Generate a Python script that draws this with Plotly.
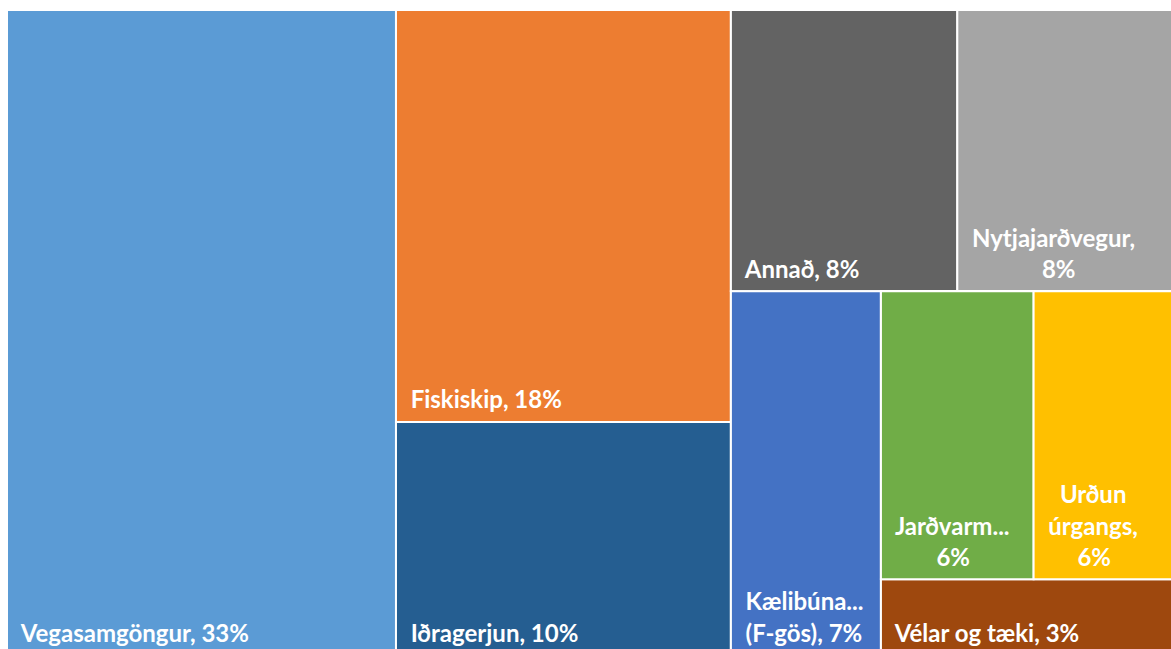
import plotly.graph_objects as go

# --- data (shares in %) ---
categories = ["Vegasamgöngur", "Fiskiskip", "Iðragerjun", "Annað", "Nytjajarðvegur",
              "Kælibúnaður (F-gös)", "Jarðvarmavirkjanir", "Urðun úrgangs", "Vélar og tæki"]
shares = [33.1, 18.2, 10.3, 8.4, 8.3, 7.2, 5.8, 5.6, 3.0]
colors = ["#5B9BD5", "#ED7D31", "#255E91", "#636363", "#A5A5A5",
          "#4472C4", "#70AD47", "#FFC000", "#9E480E"]
# label lines as shown in the tiles (Excel wraps / truncates)
tile_lines = [["Vegasamgöngur, {p}%"], ["Fiskiskip, {p}%"], ["Iðragerjun, {p}%"],
              ["Annað, {p}%"], ["Nytjajarðvegur,", "{p}%"], ["Kælibúna...", "(F-gös), {p}%"],
              ["Jarðvarm...", "{p}%"], ["Urðun", "úrgangs,", "{p}%"], ["Vélar og tæki, {p}%"]]
# extra no-break spaces to centre the shorter wrapped lines
line_indent = [[0], [0], [0], [0], [0, 12], [0, 0], [0, 7], [2, 0, 5], [0]]

# tiling groups (reproduce the Excel layout with slice-dice tiling)
leaf_parent = {"Vegasamgöngur": "", "Fiskiskip": "g1", "Iðragerjun": "g1",
               "Annað": "g3", "Nytjajarðvegur": "g3", "Kælibúnaður (F-gös)": "g4",
               "Jarðvarmavirkjanir": "g6", "Urðun úrgangs": "g6", "Vélar og tæki": "g5"}
group_parent = {"g1": "", "g2": "", "g3": "g2", "g4": "g2", "g5": "g4", "g6": "g5"}
order = ["Vegasamgöngur", "g1", "Fiskiskip", "Iðragerjun", "g2", "g3", "Annað",
         "Nytjajarðvegur", "g4", "Kælibúnaður (F-gös)", "g5", "g6",
         "Jarðvarmavirkjanir", "Urðun úrgangs", "Vélar og tæki"]

FONT_PX = 24      # visible label size
BASE_PX = 8       # base size -> line step 1.3*8 px (used for spacing / bottom padding)
NB = "\u00a0"
TINY = "<span style='font-size:1px'>" + NB + "</span>"


def make_text(lines, indents, pct):
    parts = ["<span style='font-size:%dpx'>%s%s</span>" % (FONT_PX, NB * (2 + ind), ln.format(p=pct))
             for ln, ind in zip(lines, indents)]
    gap = "<br>" + TINY + "<br>" + TINY + "<br>"
    return gap.join(parts) + "<br>" + TINY


total = sum(shares)
ids, parents, values, texts, cols = [], [], [], [], []
for node in order:
    ids.append(node)
    if node in group_parent:
        parents.append(group_parent[node])
        values.append(0)
        texts.append("")
        cols.append("#FFFFFF")
    else:
        i = categories.index(node)
        parents.append(leaf_parent[node])
        values.append(shares[i])
        texts.append(make_text(tile_lines[i], line_indent[i], round(shares[i] / total * 100)))
        cols.append(colors[i])

fig = go.Figure(go.Treemap(
    ids=ids, labels=ids, parents=parents, values=values,
    branchvalues="remainder", sort=False,
    text=texts, textinfo="text", textposition="bottom left",
    textfont=dict(family="Lato", size=BASE_PX, color="white", weight="bold"),
    marker=dict(colors=cols, line=dict(color="white", width=2),
                pad=dict(t=0, l=0, r=0, b=0), depthfade=False),
    tiling=dict(packing="slice-dice", pad=0),
    pathbar=dict(visible=False),
    hoverinfo="skip",
))
fig.update_layout(width=1181, height=655, margin=dict(l=7, t=10, r=0, b=0),
                  paper_bgcolor="white", showlegend=False)

fig.write_html("out.html", config={"displayModeBar": False}, post_script=(
    "document.body.style.margin='0';document.body.style.overflow='hidden';"
    "document.documentElement.style.overflow='hidden';"))
